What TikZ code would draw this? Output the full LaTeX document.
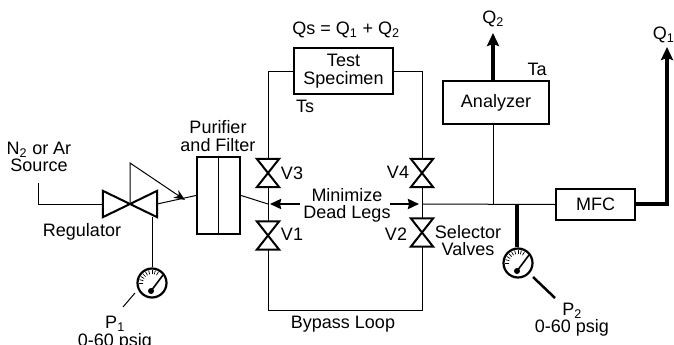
\documentclass[tikz,border=0pt]{standalone}
\usepackage{fontspec}
\setmainfont{Liberation Sans}
\usetikzlibrary{arrows.meta}

\begin{document}
\begin{tikzpicture}[x=1pt,y=-1pt]
        \tikzstyle{every node}=[font=\fontsize{18}{17.5}\selectfont,inner sep=0pt,align=center]
        \tikzstyle{pipe}=[line width=1pt]
        \tikzstyle{box}=[draw,line width=2.2pt,fill=white]
        \tikzstyle{valve}=[minimum width=22pt,minimum height=28pt]
        \tikzstyle{gauge}=[draw,circle,line width=2.2pt,minimum size=29pt]
        \tikzstyle{heavy}=[line width=4pt]
        \tikzstyle{flow}=[line width=3.5pt,-{Stealth[length=13pt,width=12pt,inset=2pt]}]
        \useasboundingbox (0,0) rectangle (674,345);

        % boxes
        \node[box,minimum width=43pt,minimum height=77pt] (purifier) at (218.5,195.5) {};
        \node[box,minimum width=99pt,minimum height=46pt] (specimen) at (343.5,71) {Test\\Specimen};
        \node[box,minimum width=106pt,minimum height=43pt] (analyzer) at (496,102.5) {Analyzer};
        \node[box,minimum width=79pt,minimum height=31pt] (mfc) at (595.5,204.5) {MFC};

        % valves and gauges
        \node[valve] (v3) at (268,173) {};
        \node[valve] (v4) at (422,173) {};
        \node[valve] (v1) at (268,235.5) {};
        \node[valve] (v2) at (422,232.5) {};
        \node[minimum width=54pt,minimum height=26pt] (regulator) at (130,204) {};
        \node[gauge] (p1) at (152,283) {};
        \node[gauge] (p2) at (518,263) {};

        % junctions and free ends
        \coordinate (source) at (38,183);
        \coordinate (sourcecorner) at (38,204);
        \coordinate (pilot) at (130,163);
        \coordinate (pilottip) at (185,200);
        \coordinate (leftjoin) at (268,204);
        \coordinate (rightjoin) at (422,204);
        \coordinate (analyzerjoin) at (493,204);
        \coordinate (p2join) at (517,204);
        \coordinate (mfccorner) at (667,204);
        \coordinate (q1end) at (667,47);
        \coordinate (q2end) at (493,33);
        \coordinate (leftbottom) at (268,310);
        \coordinate (rightbottom) at (422,310);
        \coordinate (lefttop) at (268,71);
        \coordinate (righttop) at (422,71);

        % piping
        \draw[pipe] (source) -- (sourcecorner) -- (regulator.west);
        \draw[pipe] (regulator.east) -- (purifier.west);
        \draw[pipe] (purifier.east) -- (leftjoin);
        \draw[pipe] (specimen.west |- lefttop) -- (lefttop) -- (v3.north);
        \draw[pipe] (specimen.east |- righttop) -- (righttop) -- (v4.north);
        \draw[pipe] (v3.south) -- (v1.north);
        \draw[pipe] (v4.south) -- (v2.north);
        \draw[pipe] (v1.south) -- (leftbottom) -- (rightbottom) -- (v2.south);
        \draw[pipe] (rightjoin) -- (mfc.west);
        \draw[pipe] (analyzerjoin) -- (analyzer.south -| analyzerjoin);
        \draw[pipe] (regulator.south east -| p1.north) -- (p1.north);
        \draw[heavy] (p2join) -- (p2.north -| p2join);
        \draw[line width=1.6pt] (purifier.north) -- (purifier.south);

        % valve bodies
        \foreach \v in {v1,v2,v3,v4} {
            \draw[line width=2pt,line join=miter] (\v.north west) -- (\v.north east) -- (\v.south west) -- (\v.south east) -- cycle;
        }
        \draw[line width=2pt] (regulator.north west) -- (regulator.south east) -- (regulator.north east) -- (regulator.south west) -- cycle;
        \draw[pipe,-{Stealth[length=11pt,width=9pt]}] (regulator.center) -- (pilot) -- (pilottip);

        % gauge dials
        \foreach \g in {p1,p2} {
            \foreach \a in {60,75,...,180} {
                \draw[line width=.7pt] (\g) ++(\a:9pt) -- ++(\a:4pt);
            }
            \draw[line width=1.6pt] (\g) ++(-1,8) -- ++(12,-16);
            \fill (\g) ++(-1,8) circle (3pt);
        }
        \coordinate (p1lead) at (123,307);
        \draw[pipe] (p1lead) -- (135,293);
        \coordinate (p2lead) at (555,298);
        \draw[line width=2.5pt] (p2lead) -- (533,277);

        % flows
        \draw[flow] (analyzer.north -| q2end) -- (q2end);
        \draw[line width=4pt] (mfc.east |- mfccorner) -- (mfccorner);
        \draw[flow] (mfccorner) ++(0,2) -- (q1end);
        \coordinate (legleft) at (300,204);
        \coordinate (legright) at (390,204);
        \draw[line width=2.5pt,-{Stealth[length=11pt,width=10pt,inset=1pt]}] (legleft) -- (270,204);
        \draw[line width=2.5pt,-{Stealth[length=11pt,width=10pt,inset=1pt]}] (legright) -- (419,204);

        % labels
        \node (sourcelabel) at (39,157) {N\textsubscript{2} or Ar\\[-1pt]Source};
        \node (regulatorlabel) at (82,232) {Regulator};
        \node (purifierlabel) at (218,136) {Purifier\\and Filter};
        \node (flowlabel) at (346,30) {Qs = Q\textsubscript{1} + Q\textsubscript{2}};
        \node (tslabel) at (305,106) {Ts};
        \node (talabel) at (537,69) {Ta};
        \node (v3label) at (292,173) {V3};
        \node (v4label) at (398,172) {V4};
        \node (v1label) at (292,234) {V1};
        \node (v2label) at (396,234) {V2};
        \node (deadlabel) at (347,205.5) {Minimize\\Dead Legs};
        \node (selectorlabel) at (468,240.5) {Selector\\Valves};
        \node (bypasslabel) at (343,324) {Bypass Loop};
        \node (q2label) at (493,19) {Q\textsubscript{2}};
        \node (q1label) at (663.5,35) {Q\textsubscript{1}};
        \node (p1label) at (115,324) {P\textsubscript{1}};
        \node (p1range) at (115,342) {0-60 psig};
        \node (p2label) at (572,311) {P\textsubscript{2}};
        \node (p2range) at (572,328) {0-60 psig};
\end{tikzpicture}
\end{document}
